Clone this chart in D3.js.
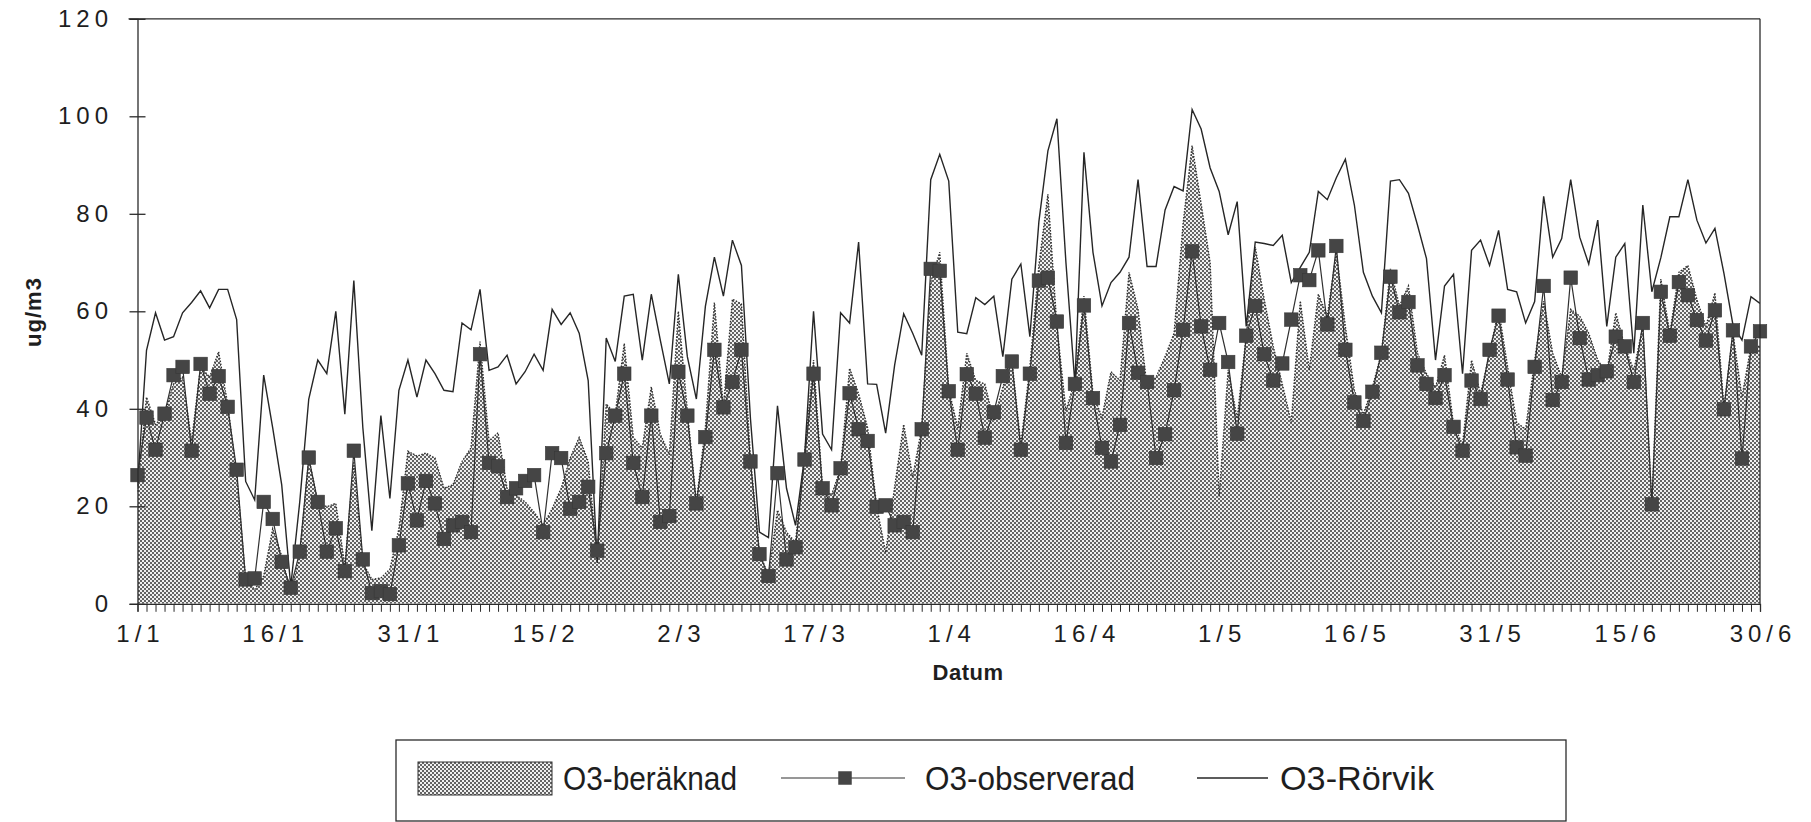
<!DOCTYPE html>
<html>
<head>
<meta charset="utf-8">
<script src="https://cdn.jsdelivr.net/npm/d3@7"></script>
<style>
  html, body { margin: 0; padding: 0; background: #fff; }
  svg { display: block; }
</style>
</head>
<body>
<svg id="chart" width="1811" height="822"></svg>
<script>
// Daily ozone, 1 Jan - 30 Jun (181 days), ug/m3
const xTickLabels = ["1/1", "16/1", "31/1", "15/2", "2/3", "17/3", "1/4", "16/4", "1/5", "16/5", "31/5", "15/6", "30/6"];
const yTicks = [0, 20, 40, 60, 80, 100, 120];
const seriesNames = ["O3-beräknad", "O3-observerad", "O3-Rörvik"];

const beraknad = [
  23, 42.4, 36.8, 38.9, 45.1, 46.5, 33.4, 48.6, 46.5, 51.7,
  41.0, 26.4, 5.0, 2.9, 5.7, 15.4, 9.8, 2.2, 9.8, 29.9,
  20.9, 19.9, 20.6, 7.8, 29.2, 8.4, 5.0, 5.3, 7.1, 15.4,
  31.3, 30.3, 30.9, 29.9, 23.7, 24.4, 29.2, 32.0, 53.8, 33.4,
  35.1, 23.7, 22.3, 20.9, 18.8, 16.1, 19.5, 23.7, 29.9, 34.1,
  29.2, 9.1, 41.0, 38.9, 53.4, 34.1, 32.0, 44.5, 34.8, 30.6,
  60.0, 39.6, 20.9, 36.1, 61.8, 40.3, 62.5, 61.5, 29.9, 10.5,
  5.7, 19.2, 14.7, 12.6, 30.6, 50.0, 23.7, 22.3, 27.8, 48.3,
  43.1, 36.1, 20.0, 10.5, 24.0, 36.8, 26.0, 36.1, 66.0, 72.1,
  44.0, 36.1, 51.4, 45.8, 45.1, 37.5, 44.4, 50.0, 32.7, 48.6,
  69.4, 84.0, 56.9, 39.6, 45.8, 63.1, 43.1, 38.2, 47.6, 45.8,
  68.0, 60.4, 44.4, 46.5, 50.7, 55.5, 78.0, 94.0, 82.0, 70.0,
  22.0, 48.0, 38.0, 55.0, 73.2, 62.4, 52.8, 45.1, 37.2, 62.1,
  47.9, 63.5, 59.0, 72.1, 56.9, 43.8, 38.9, 44.4, 51.4, 68.7,
  61.1, 65.2, 51.4, 47.2, 44.4, 51.0, 36.8, 32.7, 50.0, 43.1,
  51.4, 60.4, 48.6, 37.2, 35.8, 50.0, 62.1, 51.4, 46.5, 60.4,
  59.0, 55.5, 50.0, 47.2, 59.7, 52.8, 47.9, 56.9, 20.4, 66.6,
  55.5, 68.0, 69.4, 62.4, 56.9, 63.8, 40.3, 55.5, 42.4, 52.8,
  52.8
];

const observerad = [
  26.4, 38.2, 31.6, 39.0, 46.9, 48.6, 31.4, 49.2, 43.1, 46.7,
  40.4, 27.5, 5.0, 5.2, 20.9, 17.4, 8.6, 3.3, 10.7, 30.0,
  20.9, 10.7, 15.5, 6.7, 31.4, 9.1, 2.2, 2.6, 2.0, 12.0,
  24.7, 17.1, 25.2, 20.6, 13.3, 16.1, 16.8, 14.7, 51.2, 28.9,
  28.2, 21.9, 23.7, 25.2, 26.4, 14.7, 30.9, 29.9, 19.5, 20.9,
  24.0, 10.9, 30.9, 38.6, 47.2, 28.9, 21.9, 38.6, 16.8, 18.0,
  47.6, 38.6, 20.6, 34.2, 52.1, 40.3, 45.5, 52.1, 29.2, 10.2,
  5.7, 26.8, 9.1, 11.6, 29.6, 47.2, 23.7, 20.2, 27.8, 43.2,
  35.8, 33.4, 19.9, 20.2, 16.1, 16.8, 14.7, 35.8, 68.7, 68.3,
  43.6, 31.6, 47.1, 43.1, 34.1, 39.3, 46.7, 49.7, 31.6, 47.2,
  66.3, 66.9, 57.9, 33.0, 45.1, 61.2, 42.2, 32.0, 29.2, 36.7,
  57.6, 47.4, 45.5, 29.9, 34.8, 43.8, 56.2, 72.3, 56.9, 48.0,
  57.6, 49.6, 34.9, 55.0, 61.1, 51.2, 45.8, 49.3, 58.3, 67.4,
  66.4, 72.5, 57.3, 73.4, 52.1, 41.3, 37.5, 43.5, 51.5, 67.1,
  59.8, 61.9, 48.9, 45.1, 42.2, 46.9, 36.3, 31.4, 45.8, 42.0,
  52.1, 59.1, 46.0, 32.1, 30.4, 48.6, 65.2, 41.8, 45.5, 66.9,
  54.5, 46.0, 46.9, 47.7, 54.8, 52.8, 45.5, 57.6, 20.4, 64.0,
  55.0, 66.0, 63.3, 58.2, 54.0, 60.2, 39.9, 56.1, 29.8, 52.8,
  55.9
];

const rorvik = [
  24, 52, 59.7, 54.1, 54.8, 59.7, 61.8, 64.2, 60.7, 64.5,
  64.5, 58.3, 25.1, 21.3, 46.9, 36.1, 24.4, 3.6, 20.9, 42.0,
  50.0, 47.2, 60.0, 38.9, 66.3, 36.1, 15.0, 38.6, 21.6, 43.8,
  50.0, 42.4, 50.0, 47.2, 43.8, 43.5, 57.6, 56.2, 64.5, 47.9,
  48.6, 51.0, 45.1, 47.6, 51.2, 47.9, 60.4, 57.3, 59.7, 55.5,
  45.8, 8.4, 54.5, 49.7, 63.1, 63.5, 50.0, 63.5, 54.1, 45.1,
  67.6, 50.7, 42.0, 61.0, 71.1, 63.1, 74.6, 69.4, 38.0, 14.7,
  13.6, 40.6, 23.7, 16.1, 30.0, 60.0, 34.8, 31.6, 59.7, 57.6,
  74.2, 45.1, 45.0, 35.0, 49.0, 59.5, 55.5, 51.0, 87.0, 92.2,
  86.7, 55.7, 55.4, 62.8, 61.4, 63.1, 50.7, 66.6, 69.7, 54.8,
  78.4, 92.9, 99.5, 70.0, 45.1, 92.6, 72.1, 61.1, 65.9, 68.0,
  71.1, 87.0, 69.2, 69.2, 80.8, 85.6, 84.7, 101.4, 97.4, 89.4,
  84.6, 75.7, 82.5, 56.9, 74.2, 73.9, 73.5, 75.6, 65.9, 69.0,
  72.1, 84.6, 82.9, 87.4, 91.2, 81.8, 68.0, 63.1, 59.7, 86.7,
  87.0, 84.2, 77.7, 70.8, 50.0, 65.2, 67.6, 47.2, 72.5, 74.6,
  69.4, 76.6, 64.5, 64.0, 57.6, 62.0, 83.6, 71.1, 74.9, 87.0,
  75.2, 69.7, 78.7, 56.9, 71.1, 73.9, 51.4, 81.8, 64.0, 71.0,
  79.4, 79.4, 87.0, 78.7, 74.0, 77.0, 67.8, 57.2, 54.1, 63.0,
  61.6
];

const svg = d3.select("#chart");
const FONT = "'Liberation Sans', Arial, Helvetica, sans-serif";
const INK = "#2b2b2b";

const plot = { left: 137.5, right: 1760, top: 18.8, bottom: 603.8 };

const x = d3.scaleLinear().domain([0, beraknad.length - 1]).range([plot.left, plot.right]);
const y = d3.scaleLinear().domain([0, 120]).range([plot.bottom, plot.top]);

// halftone fill for the computed series
const defs = svg.append("defs");
const pat = defs.append("pattern")
  .attr("id", "halftone")
  .attr("patternUnits", "userSpaceOnUse")
  .attr("width", 4).attr("height", 4);
pat.append("rect").attr("width", 4).attr("height", 4).attr("fill", "#f0f0f0");
pat.append("rect").attr("x", 0).attr("y", 0).attr("width", 2).attr("height", 2).attr("fill", "#646464");
pat.append("rect").attr("x", 2).attr("y", 2).attr("width", 2).attr("height", 2).attr("fill", "#646464");

defs.append("clipPath").attr("id", "plotclip")
  .append("rect")
  .attr("x", plot.left).attr("y", plot.top)
  .attr("width", plot.right - plot.left).attr("height", plot.bottom - plot.top);

const g = svg.append("g").attr("clip-path", "url(#plotclip)");

// O3-beräknad: shaded area with a dotted upper edge
const area = d3.area()
  .x((d, i) => x(i))
  .y0(y(0))
  .y1(d => y(d));
g.append("path")
  .datum(beraknad)
  .attr("d", area)
  .attr("fill", "url(#halftone)");

const line = d3.line()
  .x((d, i) => x(i))
  .y(d => y(d));

g.append("path")
  .datum(beraknad)
  .attr("d", line)
  .attr("fill", "none")
  .attr("stroke", "#303030")
  .attr("stroke-width", 1.4)
  .attr("stroke-dasharray", "1.5 1.5");

// O3-Rörvik: thin line
g.append("path")
  .datum(rorvik)
  .attr("d", line)
  .attr("fill", "none")
  .attr("stroke", "#262626")
  .attr("stroke-width", 1.4)
  .attr("stroke-linejoin", "miter");

// O3-observerad: line with square markers
svg.append("path")
  .datum(observerad)
  .attr("d", line)
  .attr("fill", "none")
  .attr("stroke", "#303030")
  .attr("stroke-width", 1.2);

const SQ = 13.5;
svg.append("g")
  .selectAll("rect")
  .data(observerad)
  .join("rect")
  .attr("x", (d, i) => x(i) - SQ / 2)
  .attr("y", d => y(d) - SQ / 2)
  .attr("width", SQ)
  .attr("height", SQ)
  .attr("fill", "#454545")
  .attr("stroke", "#383838")
  .attr("stroke-width", 0.6);

// frame: top and right edges
svg.append("line")
  .attr("x1", plot.left - 9).attr("x2", plot.right)
  .attr("y1", y(120)).attr("y2", y(120))
  .attr("stroke", INK).attr("stroke-width", 1.3);
svg.append("line")
  .attr("x1", plot.right).attr("x2", plot.right)
  .attr("y1", y(120)).attr("y2", y(0))
  .attr("stroke", INK).attr("stroke-width", 1.3);

// y axis with ticks crossing the axis line
const LS = 5;
const yAxis = svg.append("g")
  .attr("transform", `translate(${plot.left},0)`)
  .call(d3.axisLeft(y).tickValues(yTicks).tickSize(8).tickFormat(d3.format("d")));
yAxis.select(".domain").attr("stroke", INK).attr("stroke-width", 1.3);
yAxis.selectAll(".tick line").attr("x1", 8).attr("stroke", INK).attr("stroke-width", 1.3);
yAxis.selectAll(".tick text")
  .attr("x", -29.5 + LS)
  .attr("fill", "#1e1e1e")
  .style("font-family", FONT)
  .style("font-size", "24px")
  .style("letter-spacing", LS + "px");

// x axis: one tick per day, labels every 15 days
const labelOf = new Map(xTickLabels.map((t, k) => [k * 15, t]));
const xAxis = svg.append("g")
  .attr("transform", `translate(0,${plot.bottom})`)
  .call(d3.axisBottom(x)
    .tickValues(d3.range(0, beraknad.length))
    .tickSize(8)
    .tickPadding(13)
    .tickFormat(i => labelOf.get(i) || ""));
xAxis.select(".domain").attr("stroke", INK).attr("stroke-width", 1.3);
xAxis.selectAll(".tick line").attr("stroke", INK).attr("stroke-width", 1);
xAxis.selectAll(".tick text")
  .attr("dx", LS / 2)
  .attr("fill", "#1e1e1e")
  .style("font-family", FONT)
  .style("font-size", "24px")
  .style("letter-spacing", LS + "px");

// axis titles
svg.append("text")
  .attr("x", 968).attr("y", 680)
  .attr("text-anchor", "middle")
  .attr("fill", "#1e1e1e")
  .style("font-family", FONT)
  .style("font-size", "22px")
  .style("font-weight", "bold")
  .style("letter-spacing", "0.5px")
  .text("Datum");

svg.append("text")
  .attr("transform", "translate(41,312) rotate(-90)")
  .attr("text-anchor", "middle")
  .attr("fill", "#1e1e1e")
  .style("font-family", FONT)
  .style("font-size", "22px")
  .style("font-weight", "bold")
  .style("letter-spacing", "1px")
  .text("ug/m3");

// legend
const leg = svg.append("g");
leg.append("rect")
  .attr("x", 396).attr("y", 740)
  .attr("width", 1170).attr("height", 81)
  .attr("fill", "#fff")
  .attr("stroke", INK).attr("stroke-width", 1.3);

const LEGY = 778;
const legFont = "'Liberation Sans Narrow', 'Arial Narrow', 'Liberation Sans', Arial, sans-serif";

leg.append("rect")
  .attr("x", 418).attr("y", 762)
  .attr("width", 134).attr("height", 33)
  .attr("fill", "url(#halftone)")
  .attr("stroke", "#333").attr("stroke-width", 1);

leg.append("line")
  .attr("x1", 781).attr("x2", 905)
  .attr("y1", LEGY).attr("y2", LEGY)
  .attr("stroke", "#303030").attr("stroke-width", 1.2);
leg.append("rect")
  .attr("x", 845 - SQ / 2).attr("y", LEGY - SQ / 2)
  .attr("width", SQ).attr("height", SQ)
  .attr("fill", "#454545");

leg.append("line")
  .attr("x1", 1197).attr("x2", 1268)
  .attr("y1", LEGY).attr("y2", LEGY)
  .attr("stroke", "#262626").attr("stroke-width", 1.4);

const legText = [
  { name: seriesNames[0], x: 563, w: 174 },
  { name: seriesNames[1], x: 925, w: 210 },
  { name: seriesNames[2], x: 1280, w: 154 }
];
leg.selectAll("text.leg")
  .data(legText)
  .join("text")
  .attr("class", "leg")
  .attr("x", d => d.x)
  .attr("y", LEGY + 12)
  .attr("textLength", d => d.w)
  .attr("lengthAdjust", "spacingAndGlyphs")
  .attr("fill", "#1e1e1e")
  .style("font-family", legFont)
  .style("font-size", "34px")
  .text(d => d.name);
</script>
</body>
</html>
